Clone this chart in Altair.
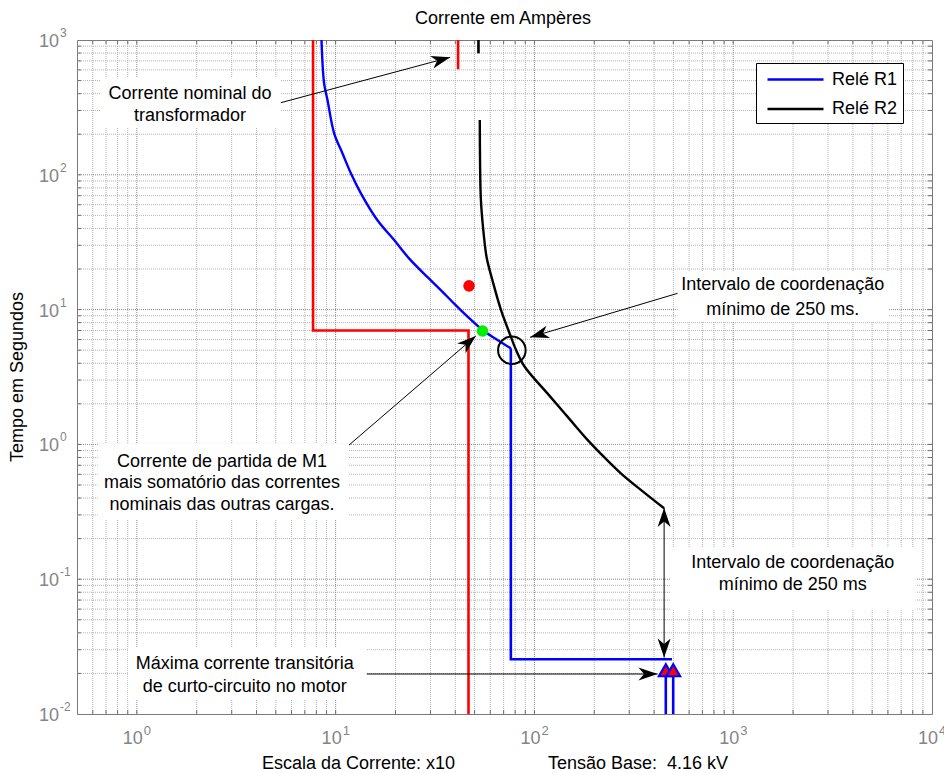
import altair as alt
import pandas as pd

FONT = "Liberation Sans"
LABEL_GRAY = "#858585"

# ---------------- curve data (current, scale x10 A ; time in s) ----------------
# Relay R1: inverse-time part, then definite-time step
r1_curve_current = [8.49, 8.75, 9.10, 9.83, 10.83, 11.93, 13.4, 16.2, 19.7, 23.4, 29.0,
                    33.8, 39.4, 46.1, 54.8, 65.2, 76.1]
r1_curve_time = [1000, 477, 359, 203, 144, 102.6, 72.9, 46.2, 32.8, 24.0, 17.4,
                 13.97, 11.1, 8.86, 7.06, 5.95, 5.16]
r1_step_current = [76.1, 76.1, 492]
r1_step_time = [5.16, 0.0255, 0.0255]

# Relay R2
r2_current = [53.1, 53.3, 53.8, 55.5, 57.6, 61.5, 67.8, 76.1, 80.0, 89.0, 116, 147,
              185, 216, 272, 343, 449]
r2_time = [255, 115, 65, 37, 24, 16.5, 10.0, 6.3, 5.2, 3.8, 2.4, 1.6,
           1.08, 0.85, 0.61, 0.46, 0.336]
r2_top_current = [52.3, 52.3]
r2_top_time = [1000, 796]

motor_current = [7.7, 7.7, 46.6, 46.6]
motor_time = [1000, 7.0, 7.0, 0.01]
trafo_current = [41.3, 41.3]
trafo_time = [1000, 607]

# short-circuit markers
sc_current = [458, 499]
sc_time = [0.0211, 0.0211]
sc_floor = [0.01, 0.01]

start_current = [54.8]
start_time = [6.94]
red_current = [46.9]
red_time = [15.0]
ring_current = [77.0]
ring_time = [5.0]

# ---------------- annotations ----------------
note_text = ["Corrente nominal do", "transformador",
             "Intervalo de coordenação", "mínimo de 250 ms.",
             "Corrente de partida de M1", "mais somatório das correntes",
             "nominais das outras cargas.",
             "Intervalo de coordenação", "mínimo de 250 ms",
             "Máxima corrente transitória", "de curto-circuito no motor"]
note_current = [1.85, 1.85, 1776, 1776, 2.68, 2.68, 2.68, 1994, 1994, 3.49, 3.49]
note_time = [398, 273, 15.2, 9.93, 0.744, 0.520, 0.355, 0.1326, 0.0906, 0.0235, 0.0159]

box_i1 = [0.659, 524.6, 0.6365, 485.4, 0.901]
box_i2 = [5.30, 6085, 11.65, 8287, 14.35]
box_t1 = [522.6, 19.1, 1.007, 0.1704, 0.0309]
box_t2 = [222.4, 8.13, 0.2749, 0.0591, 0.0127]

arrow_i0 = [5.30, 524.6, 11.69, 449.2, 14.35]
arrow_t0 = [342.7, 13.2, 0.99, 0.0262, 0.0198]
arrow_i1 = [37.67, 95.1, 50.7, 449.2, 416]
arrow_t1 = [744, 6.23, 6.37, 0.3375, 0.0198]

head_current = [37.67, 95.1, 50.7, 449.2, 449.2, 416]
head_time = [744, 6.23, 6.37, 0.3375, 0.0262, 0.0198]
head_angle = [75, 253.4, 49.3, 0, 180, 90]

x_tick_values = [1, 10, 100, 1000, 10000]
x_tick_exp = ["0", "1", "2", "3", "4"]
y_tick_values = [0.01, 0.1, 1, 10, 100, 1000]
y_tick_exp = ["-2", "-1", "0", "1", "2", "3"]

mult = [2, 3, 4, 5, 6, 7, 8, 9]
x_minor = [m * d for d in [0.1, 1, 10, 100, 1000] for m in mult if 0.5 < m * d < 10000]
x_major = [1, 10, 100, 1000]
y_minor = [m * d for d in [0.01, 0.1, 1, 10, 100] for m in mult]
y_major = [0.1, 1, 10, 100]

# ---------------- tables ----------------
def path(cur, tim, name, seg):
    return pd.DataFrame({"I": cur, "t": tim, "rele": name, "seg": seg,
                         "i": list(range(len(cur)))})

relay_curves = pd.concat([path(r1_curve_current, r1_curve_time, "Relé R1", "a"),
                          path(r2_current, r2_time, "Relé R2", "c")], ignore_index=True)
relay_straight = pd.concat([path(r1_step_current, r1_step_time, "Relé R1", "s"),
                            path(r2_top_current, r2_top_time, "Relé R2", "b")],
                           ignore_index=True)
reds = pd.concat([path(motor_current, motor_time, "m", "m"),
                  path(trafo_current, trafo_time, "t", "t")], ignore_index=True)
sc = pd.DataFrame({"I": sc_current, "t": sc_time, "t0": sc_floor})
notes = pd.DataFrame({"txt": note_text, "I": note_current, "t": note_time})
boxes = pd.DataFrame({"I1": box_i1, "I2": box_i2, "t1": box_t1, "t2": box_t2})
arrows = pd.DataFrame({"I0": arrow_i0, "t0": arrow_t0, "I1": arrow_i1, "t1": arrow_t1})
heads = pd.DataFrame({"I": head_current, "t": head_time, "ang": head_angle})
xt = pd.DataFrame({"v": x_tick_values, "e": x_tick_exp})
yt = pd.DataFrame({"v": y_tick_values, "e": y_tick_exp})
one = pd.DataFrame({"k": [0]})

W, H = 855, 674
xs = alt.Scale(type="log", domain=[0.5, 10000], nice=False)
ys = alt.Scale(type="log", domain=[0.01, 1000], nice=False)


def X(f):
    return alt.X(f, type="quantitative", scale=xs, axis=None)


def Y(f):
    return alt.Y(f, type="quantitative", scale=ys, axis=None)


# grid
gxm = alt.Chart(pd.DataFrame({"v": x_minor})).mark_rule(
    color="#b4b4b4", strokeWidth=1, strokeDash=[1, 1]).encode(x=X("v"))
gxM = alt.Chart(pd.DataFrame({"v": x_major})).mark_rule(
    color="#8a8a8a", strokeWidth=1, strokeDash=[1, 1]).encode(x=X("v"))
gym = alt.Chart(pd.DataFrame({"v": y_minor})).mark_rule(
    color="#b4b4b4", strokeWidth=1, strokeDash=[1, 1]).encode(y=Y("v"))
gyM = alt.Chart(pd.DataFrame({"v": y_major})).mark_rule(
    color="#8a8a8a", strokeWidth=1, strokeDash=[1, 1]).encode(y=Y("v"))

# inner ticks on all four sides
xall = pd.DataFrame({"v": x_minor + x_major})
yall = pd.DataFrame({"v": y_minor + y_major})
tk = dict(color="#6e6e6e", strokeWidth=1)
tb = alt.Chart(xall).mark_rule(**tk).encode(x=X("v"), y=alt.value(H), y2=alt.value(H - 4))
tt = alt.Chart(xall).mark_rule(**tk).encode(x=X("v"), y=alt.value(0), y2=alt.value(4))
tl = alt.Chart(yall).mark_rule(**tk).encode(y=Y("v"), x=alt.value(0), x2=alt.value(4))
tr = alt.Chart(yall).mark_rule(**tk).encode(y=Y("v"), x=alt.value(W), x2=alt.value(W - 4))

# annotation backgrounds
bg = alt.Chart(boxes).mark_rect(color="white").encode(
    x=X("I1"), x2="I2", y=Y("t1"), y2="t2")

# curves
red_lines = alt.Chart(reds).mark_line(color="#ff0000", strokeWidth=2.6).encode(
    x=X("I"), y=Y("t"), detail="seg:N", order="i:Q")

relay_color = alt.Color(
    "rele:N",
    scale=alt.Scale(domain=["Relé R1", "Relé R2"], range=["#0000ff", "#000000"]),
    legend=alt.Legend(orient="none", legendX=679, legendY=23, title=None,
                      fillColor="white", strokeColor="black", padding=5,
                      symbolType="M-2.8,0L2.8,0", symbolSize=400,
                      symbolStrokeWidth=2.6, symbolOffset=23,
                      labelFont=FONT, labelFontSize=18, labelColor="black",
                      labelOffset=25, rowPadding=8.5, labelLimit=300))

relay_smooth = alt.Chart(relay_curves).mark_line(
    strokeWidth=2.4, interpolate="catmull-rom").encode(
    x=X("I"), y=Y("t"), color=relay_color, detail="seg:N", order="i:Q")
relay_lin = alt.Chart(relay_straight).mark_line(strokeWidth=2.6).encode(
    x=X("I"), y=Y("t"), color=relay_color, detail="seg:N", order="i:Q")

sc_rules = alt.Chart(sc).mark_rule(color="#0000ff", strokeWidth=2.6).encode(
    x=X("I"), y=Y("t0"), y2="t")
sc_tri = alt.Chart(sc).mark_point(shape="triangle-up", filled=True, color="#ff0000",
                                  stroke="#0000ff", strokeWidth=2.2, size=190,
                                  opacity=1).encode(x=X("I"), y=Y("t"))

green_dot = alt.Chart(pd.DataFrame({"I": start_current, "t": start_time})).mark_point(
    shape="circle", filled=True, color="#00ee00", size=135, opacity=1).encode(x=X("I"), y=Y("t"))
red_dot = alt.Chart(pd.DataFrame({"I": red_current, "t": red_time})).mark_point(
    shape="circle", filled=True, color="#ff0000", size=135, opacity=1).encode(x=X("I"), y=Y("t"))
ring = alt.Chart(pd.DataFrame({"I": ring_current, "t": ring_time})).mark_point(
    shape="circle", filled=False, color="black", strokeWidth=2, size=760,
    opacity=1).encode(x=X("I"), y=Y("t"))

# annotation arrows
arrow_lines = alt.Chart(arrows).mark_rule(color="black", strokeWidth=1).encode(
    x=X("I0"), y=Y("t0"), x2="I1", y2="t1")
ARROW = "M0,0 L0.65,1.9 L0,1.35 L-0.65,1.9 Z"
arrow_heads = alt.Chart(heads).mark_point(shape=ARROW, filled=True, color="black",
                                          size=400, opacity=1).encode(
    x=X("I"), y=Y("t"), angle=alt.Angle("ang:Q", scale=None))

note_marks = alt.Chart(notes).mark_text(font=FONT, fontSize=18, color="black",
                                        align="center", baseline="middle").encode(
    x=X("I"), y=Y("t"), text="txt:N")

# tick labels (10 with superscript exponent)
xl10 = alt.Chart(xt).mark_text(font=FONT, fontSize=18, color=LABEL_GRAY, align="center",
                               baseline="alphabetic", dx=-4, dy=30).encode(
    x=X("v"), y=alt.value(H), text=alt.value("10"))
xlexp = alt.Chart(xt).mark_text(font=FONT, fontSize=13, color=LABEL_GRAY, align="left",
                                baseline="alphabetic", dx=7, dy=21).encode(
    x=X("v"), y=alt.value(H), text="e:N")
yl10 = alt.Chart(yt).mark_text(font=FONT, fontSize=18, color=LABEL_GRAY, align="right",
                               baseline="alphabetic", dx=-18, dy=7).encode(
    y=Y("v"), x=alt.value(0), text=alt.value("10"))
ylexp = alt.Chart(yt).mark_text(font=FONT, fontSize=12, color=LABEL_GRAY, align="left",
                                baseline="alphabetic", dx=-17, dy=-3).encode(
    y=Y("v"), x=alt.value(0), text="e:N")

# titles
title = alt.Chart(one).mark_text(font=FONT, fontSize=18, color="black", align="center",
                                 baseline="alphabetic", text="Corrente em Ampères").encode(
    x=alt.value(426), y=alt.value(-16))
ytitle = alt.Chart(one).mark_text(font=FONT, fontSize=18, color="black", align="center",
                                  baseline="middle", angle=270,
                                  text="Tempo em Segundos").encode(
    x=alt.value(-59), y=alt.value(H / 2))
xtitle1 = alt.Chart(one).mark_text(font=FONT, fontSize=18, color="black", align="left",
                                   baseline="alphabetic",
                                   text="Escala da Corrente: x10").encode(
    x=alt.value(185), y=alt.value(729))
xtitle2 = alt.Chart(one).mark_text(font=FONT, fontSize=18, color="black", align="left",
                                   baseline="alphabetic",
                                   text="Tensão Base:\u00a0 4.16 kV").encode(
    x=alt.value(471), y=alt.value(729))

chart = alt.layer(
    gxm, gym, gxM, gyM, tb, tt, tl, tr, bg,
    red_lines, relay_smooth, relay_lin, sc_rules, sc_tri, green_dot, red_dot, ring,
    arrow_lines, arrow_heads, note_marks,
    xl10, xlexp, yl10, ylexp, title, ytitle, xtitle1, xtitle2,
).properties(
    width=W, height=H,
    autosize=alt.AutoSizeParams(type="none"),
    padding={"left": 77, "top": 40, "right": 12, "bottom": 59},
    background="white",
).configure_view(stroke="#7a7a7a", strokeWidth=1)

chart.save("out.html", embed_options={"renderer": "svg", "actions": False})
